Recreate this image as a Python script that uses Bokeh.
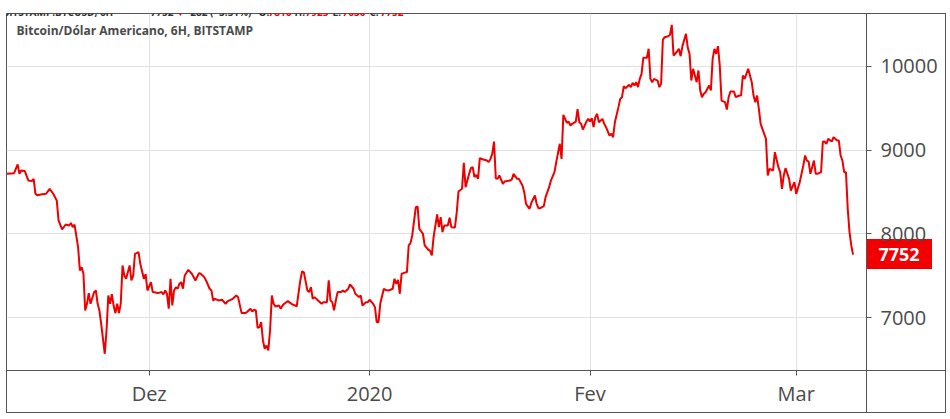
import pandas as pd
from bokeh.plotting import figure
from bokeh.models import FixedTicker, Label, Range1d, Div
from bokeh.layouts import column
from bokeh.embed import file_html
from bokeh.resources import INLINE

# ---------------- data ----------------
series_title = "Bitcoin/Dólar Americano, 6H, BITSTAMP"
header_parts = ["BITSTAMP:BTCUSD, 6H", "7752", "▼", "−282 (−3.51%)", "O:", "7816", "H:", "7925", "L:", "7630", "C:", "7752"]
header_is_red = [False, False, True, False, False, True, False, True, False, True, False, True]
first_bar = "2019-11-11 00:00"   # 6H bars counted from here
bar_hours = 6

bar_index = [
    0, 4, 6, 7, 8, 10, 12, 14, 15, 16, 17, 19, 22, 24, 26, 28, 29, 31, 33, 35, 36, 37, 38, 40, 41, 42, 43, 44, 45, 46,
    47, 49, 50, 51, 52, 53, 55, 56, 57, 58, 59, 60, 61, 62, 63, 64, 65, 66, 67, 69, 70, 71, 72, 74, 75, 77, 78, 79,
    81, 82, 85, 87, 88, 89, 90, 91, 92, 93, 94, 95, 96, 97, 98, 99, 100, 102, 104, 106, 108, 109, 111, 112, 114, 115,
    116, 117, 119, 121, 123, 124, 127, 129, 130, 132, 134, 135, 137, 138, 139, 140, 141, 142, 143, 144, 145, 146, 147,
    148, 149, 150, 151, 153, 154, 155, 156, 158, 160, 162, 163, 165,
    166, 167, 169, 170, 171, 172, 173, 175, 177, 178, 180, 181, 182, 183, 184, 185, 186, 188, 189, 190, 192, 193, 195,
    196, 198, 199, 200, 202, 203, 204, 206, 207, 208, 209, 210, 212, 213, 215, 217, 218, 219, 220, 221, 222, 223, 225,
    226, 227, 228, 230, 231, 232, 234, 235, 237, 238, 239, 240, 242, 243, 244, 245, 246, 248, 249, 250, 252,
    253, 254, 256, 257, 258, 260, 261, 262, 263, 264, 265, 266, 268, 270, 271, 272, 273, 274, 275, 276, 277, 279, 280,
    283, 284, 285, 287, 288, 290, 291, 292, 294, 295, 297, 298, 299, 300, 302, 303, 305, 306, 308, 309, 311, 312, 313,
    315, 316, 317, 318, 320, 321, 322, 323, 324, 326, 327, 328, 329, 330, 331, 332, 333, 335, 336, 337, 339, 340, 341,
    342, 344, 345, 346, 347, 348, 350, 351, 352, 353, 354, 355, 356,
    357, 358, 360, 361, 362, 363, 364, 366, 367, 368, 369, 370, 372, 373, 374, 375, 377, 378, 379, 380, 382, 383, 384,
    385, 386, 388, 389, 390, 391, 392, 393, 395, 396, 397, 398, 399, 400, 401, 402, 404, 405, 406, 407, 409, 410, 412,
    413, 414, 415, 417, 419, 420, 421, 422, 423, 424, 425, 427, 428, 429, 431, 432, 434, 435, 436, 437, 438, 440, 441,
    443, 444, 446, 448, 449, 450, 451, 452, 454, 455, 456, 458, 459, 460, 461, 462, 464, 465, 467, 468, 469, 470, 471,
    472, 473, 474, 475, 476,
]

close = [
    8718, 8725, 8829, 8718, 8757, 8750, 8638, 8630, 8658, 8479, 8460, 8470, 8479, 8538, 8479, 8399, 8160, 8052, 8112,
    8100, 8130, 8080, 8110, 7841, 7562, 7600, 7526, 7084, 7164, 7291, 7164, 7303, 7323, 7164, 7084, 6925, 6567, 6845,
    7263, 7164, 7280, 7140, 7052, 7164, 7052, 7164, 7622, 7502, 7463, 7622, 7443, 7500, 7761, 7781, 7642, 7463, 7520,
    7323,
    7423, 7304, 7292, 7304, 7276, 7324, 7284, 7105, 7463, 7144, 7324, 7363, 7344, 7403, 7423, 7344, 7503, 7570, 7523,
    7443, 7531, 7523, 7483, 7443, 7344, 7324, 7204, 7224, 7204, 7212, 7164, 7192, 7224, 7264, 7244, 7053, 7053, 7065,
    7105, 7073, 7093, 7085, 6877, 6885, 6945, 6726, 6627, 6666, 6607, 6846, 7264, 7164, 7132, 7144, 7105, 7144, 7164,
    7196, 7164, 7144, 7132, 7440,
    7550, 7543, 7324, 7304, 7364, 7224, 7244, 7204, 7164, 7184, 7184, 7443, 7204, 7184, 7085, 7204, 7304, 7304, 7324,
    7304, 7344, 7395, 7344, 7284, 7244, 7264, 7144, 7184, 7184, 7212, 7164, 7124, 6945, 6945, 7164, 7344, 7330, 7324,
    7344, 7463, 7404, 7450, 7284, 7523, 7531, 7543, 7861, 7889, 7981, 8319, 8327, 8060, 8001, 7861, 7810, 7800, 7742,
    7961, 8232, 8080, 8200, 8021, 8100, 8100, 8192, 8080, 8076,
    8250, 8506, 8538, 8849, 8558, 8717, 8785, 8797, 8677, 8705, 8657, 8904, 8888, 8876, 8857, 8896, 8956, 9103, 8665,
    8657, 8697, 8598, 8626, 8637, 8650, 8717, 8657, 8657, 8578, 8498, 8359, 8299, 8370, 8458, 8359, 8307, 8307, 8331,
    8438, 8558, 8637, 8737, 8857, 9076, 8896, 9422, 9326, 9342, 9295, 9315, 9342, 9490, 9334, 9315, 9247, 9342, 9374,
    9342, 9382, 9275, 9394, 9434, 9334, 9374, 9315, 9275, 9175, 9195, 9155, 9334, 9514, 9613, 9633, 9765, 9741, 9781,
    9753, 9805, 9773, 9812, 9753, 9852,
    9912, 10105, 10105, 10211, 9852, 9812, 9852, 9832, 9753, 9793, 10322, 10350, 10362, 10378, 10497, 10131, 10179,
    10211, 10123, 10243, 10390, 10225, 10150, 9832, 9972, 9812, 9952, 9713, 9633, 9673, 9693, 9773, 9713, 10091, 10211,
    10151, 10243, 10012, 9593, 9573, 9486, 9633, 9701, 9701, 9633, 9653, 9653, 9892, 9852, 9972, 9812, 9653, 9573,
    9653, 9494, 9315, 9255, 9135, 8697, 8777, 8757, 8976, 8797, 8737, 8538, 8697, 8785, 8657, 8518, 8618, 8478, 8618,
    8817, 8936, 8876, 8864, 8717, 8876, 8717, 8717, 8737, 9103, 9103, 9075, 9135, 9103, 9155, 9115, 9115, 8936, 8876,
    8737, 8737, 8299, 8020, 7861, 7752,
]

last_price = 7752

month_ticks = ["2019-12-01", "2020-01-01", "2020-02-01", "2020-03-01"]
month_labels = ["Dez", "2020", "Fev", "Mar"]
price_ticks = [7000, 8000, 9000, 10000]

x_start = "2019-11-10 22:20"
x_end = "2020-03-10 21:20"
y_start, y_end = 6367, 10633

# ---------------- chart ----------------
times = pd.Timestamp(first_bar) + pd.to_timedelta([i * bar_hours for i in bar_index], unit="h")

FONT = "Open Sans"
TXT = "#4a4a4a"
AXIS = "#555555"
GRID = "#e2e2e2"
RED = "#ee0000"
TAG = "#f00000"

W, H = 946, 413
ML, MR, MT, MB = 6, 80, 13, 43
FW, FH = W - ML - MR, H - MT - MB

p = figure(
    width=W, height=H,
    x_axis_type="datetime", y_axis_location="right",
    x_range=Range1d(pd.Timestamp(x_start), pd.Timestamp(x_end)),
    y_range=Range1d(y_start, y_end),
    output_backend="svg", toolbar_location=None,
    min_border_left=ML, min_border_right=MR, min_border_top=MT, min_border_bottom=MB,
)
p.background_fill_color = "white"
p.border_fill_color = None          # let the element's own background (panel borders, tag box) show
p.outline_line_color = AXIS
p.outline_line_width = 1

tick_ms = [pd.Timestamp(d).value / 1e6 for d in month_ticks]
p.xaxis.ticker = FixedTicker(ticks=tick_ms)
p.xaxis.major_label_overrides = {t: lab for t, lab in zip(tick_ms, month_labels)}
p.xgrid.ticker = FixedTicker(ticks=tick_ms)
p.yaxis.ticker = FixedTicker(ticks=price_ticks)
p.ygrid.ticker = FixedTicker(ticks=price_ticks)

for ax in (p.xaxis, p.yaxis):
    ax.axis_line_color = AXIS
    ax.major_tick_line_color = AXIS
    ax.minor_tick_line_color = None
    ax.major_tick_in = 0
    ax.major_tick_out = 5
    ax.major_label_text_font = FONT
    ax.major_label_text_font_size = "20px"
    ax.major_label_text_color = TXT
p.xaxis.major_label_standoff = 4
p.yaxis.major_label_standoff = 9

p.xgrid.grid_line_color = GRID
p.ygrid.grid_line_color = GRID

p.line(times, close, line_color=RED, line_width=2)

p.add_layout(Label(
    x=10, y=FH - 17, x_units="screen", y_units="screen", text=series_title,
    text_font=FONT, text_font_size="12px", text_font_style="bold",
    text_color=TXT, text_baseline="middle", text_align="left",
))

# header strip above the chart (cropped, as in the screenshot)
header_x = [2, 150, 175, 184, 258, 268, 294, 305, 332, 342, 369, 380]
for txt, red, hx in zip(header_parts, header_is_red, header_x):
    p.add_layout(Label(
        x=hx - ML, y=FH + 2, x_units="screen", y_units="screen", text=txt,
        text_font=FONT, text_font_size="10px", text_font_style="bold",
        text_color=(RED if red else "#333333"), text_baseline="alphabetic", text_align="left",
        level="guide",
    ))

# price tag geometry, from the price scale
TAG_W, TAG_H = 66, 30
tag_top = round(MT + (y_end - last_price) / (y_end - y_start) * FH - TAG_H / 2)

# panel borders and the tag's red box, painted as the element background
pieces = [  # (left, top, width, height, colour)
    (ML + FW, tag_top, TAG_W, TAG_H, TAG),           # price tag box
    (ML, MT + FH, 1, MB, AXIS),                      # left edge of time scale
    (ML + FW, MT + FH, 1, MB, AXIS),                 # corner separator
    (ML + FW, MT, MR, 1, AXIS),                      # top edge of price scale
    (ML + FW, MT + FH, MR, 1, AXIS),                 # bottom edge of price scale
    (W - 1, MT, 1, H - MT, AXIS),                    # right border
    (ML, H - 1, W - ML, 1, AXIS),                    # bottom border
]
p.styles = {
    "background-color": "white",
    "background-image": ", ".join(f"linear-gradient({c}, {c})" for *_, c in pieces),
    "background-position": ", ".join(f"{l}px {t}px" for l, t, *_ in pieces),
    "background-size": ", ".join(f"{w}px {h}px" for _, _, w, h, _ in pieces),
    "background-repeat": "no-repeat",
}

# price tag text, laid over the price scale
tag = Div(
    text=str(last_price), width=TAG_W, height=TAG_H,
    styles={
        "position": "absolute", "left": f"{ML + FW}px", "top": f"{tag_top}px", "z-index": "10",
        "color": "white", "font-family": FONT, "font-weight": "bold", "font-size": "18px",
        "text-align": "center", "line-height": f"{TAG_H}px", "margin": "0", "padding": "0",
    },
)

root = column(p, tag)
open("out.html", "w").write(file_html(root, INLINE))
